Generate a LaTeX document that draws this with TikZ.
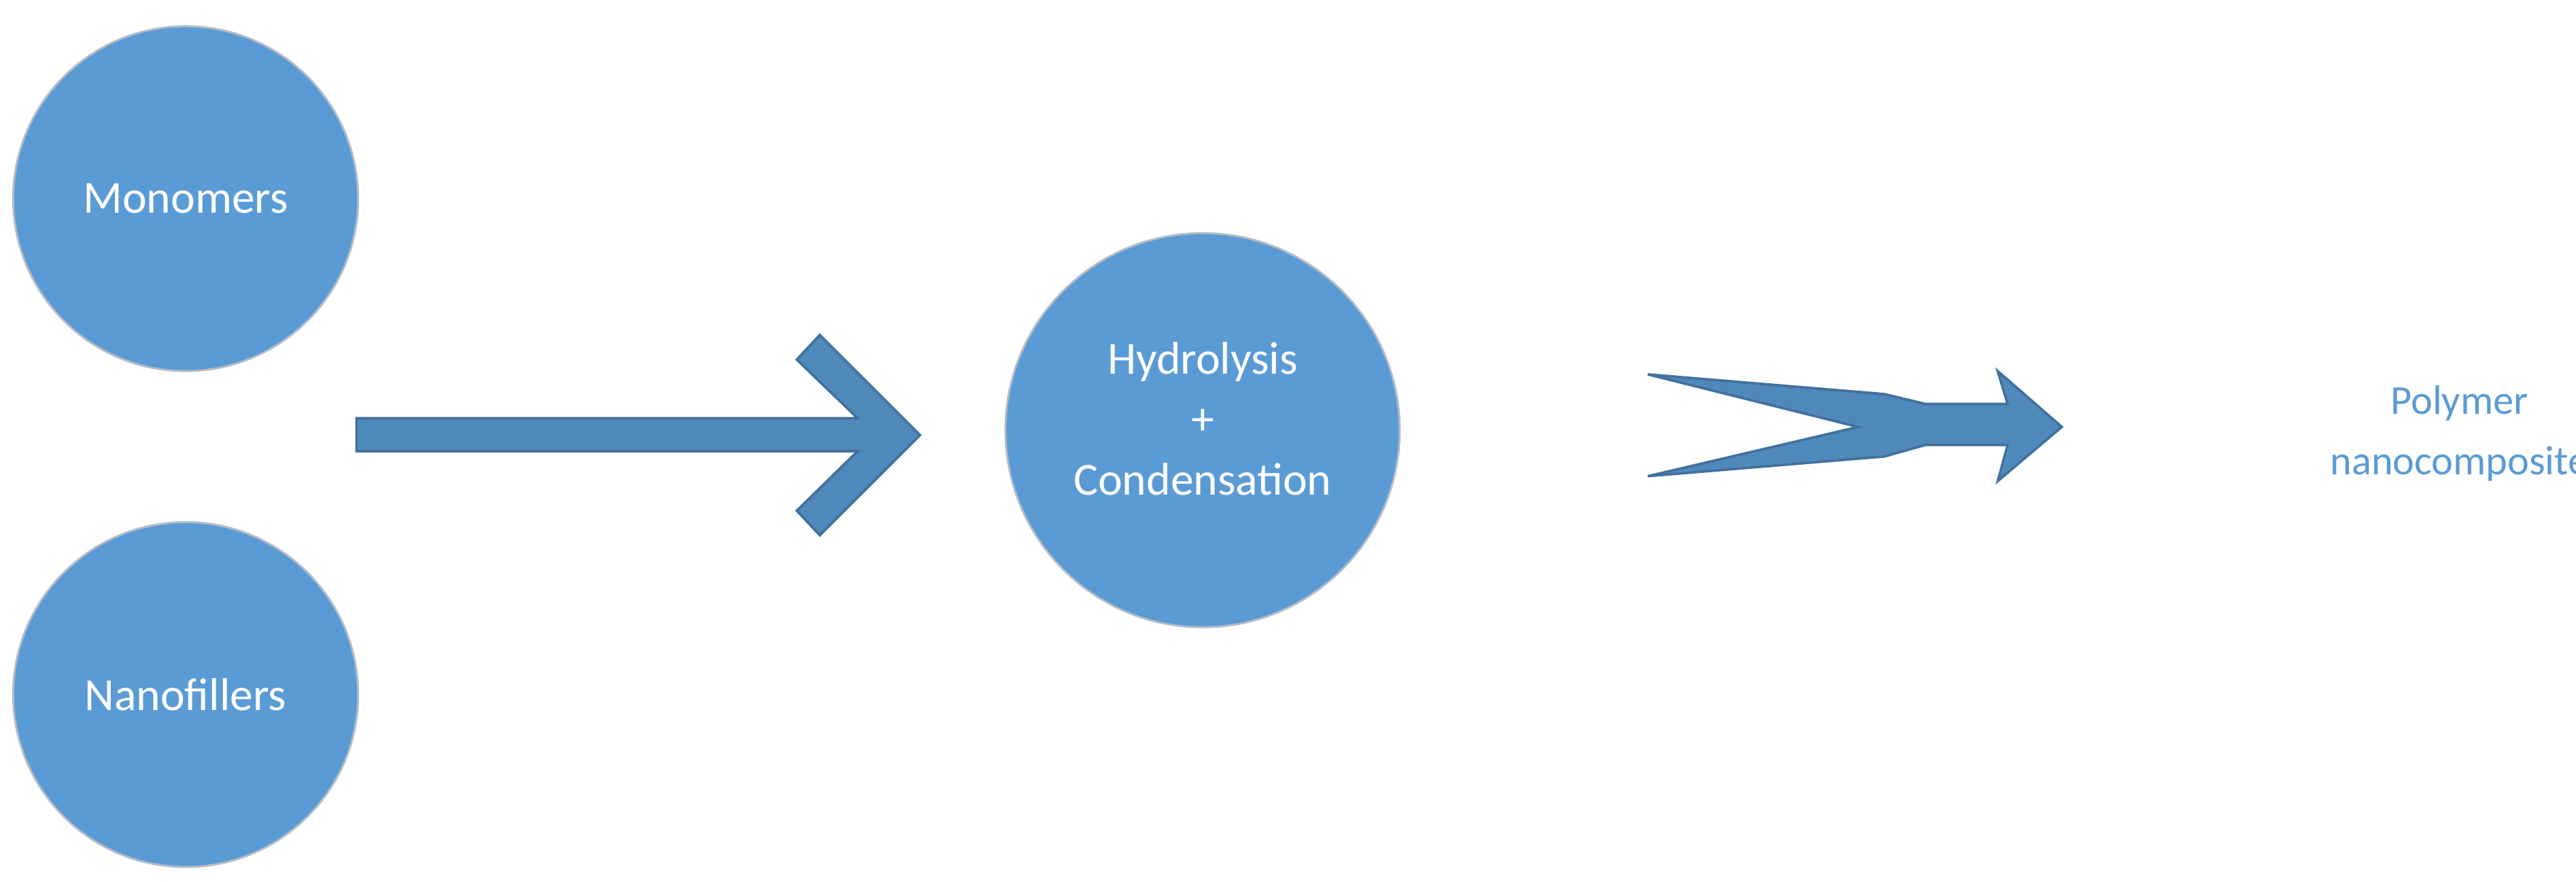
\documentclass[tikz,border=0pt]{standalone}
\usepackage{fontspec}
\setmainfont{Carlito}
\definecolor{cfill}{HTML}{5B9BD5}
\definecolor{cline}{HTML}{B4BCC6}
\definecolor{afill}{HTML}{4F88BB}
\definecolor{aline}{HTML}{41719C}
\begin{document}
\begin{tikzpicture}[x=1pt,y=-1pt,
  circ/.style={circle,fill=cfill,draw=cline,line width=1.2pt,text=white,align=center,font=\fontsize{28}{36}\selectfont,inner sep=0pt},
  arr/.style={fill=afill,draw=aline,line width=1.5pt,line join=miter}]
\useasboundingbox (0,0) rectangle (1568,537);
\node[circ,minimum size=210] (mono) at (113,121) {Monomers};
\node[circ,minimum size=210] (nano) at (113,423) {Nanofillers};
\node[circ,minimum size=240] (hc) at (732,262) {\phantom{x}};
\node[text=white,align=center,font=\fontsize{28}{37}\selectfont] (hct) at (732,255) {Hydrolysis\\+\\Condensation};
\node[text=cfill,align=center,font=\fontsize{25}{37}\selectfont] (pn) at (1497,264) {Polymer\\nanocomposite};
\draw[arr] (217,254.7) -- (522,254.7) -- (485,219) -- (499,204) -- (560,265) -- (499,326) -- (485,311) -- (522,274.8) -- (217,274.8) -- cycle;
\draw[arr] (1003,228) -- (1147,240) -- (1172,246) -- (1222,246) -- (1216,226) -- (1255,260) -- (1216,293) -- (1222,271) -- (1172,271) -- (1147,278) -- (1003,290) -- (1131,260) -- cycle;
\end{tikzpicture}
\end{document}
